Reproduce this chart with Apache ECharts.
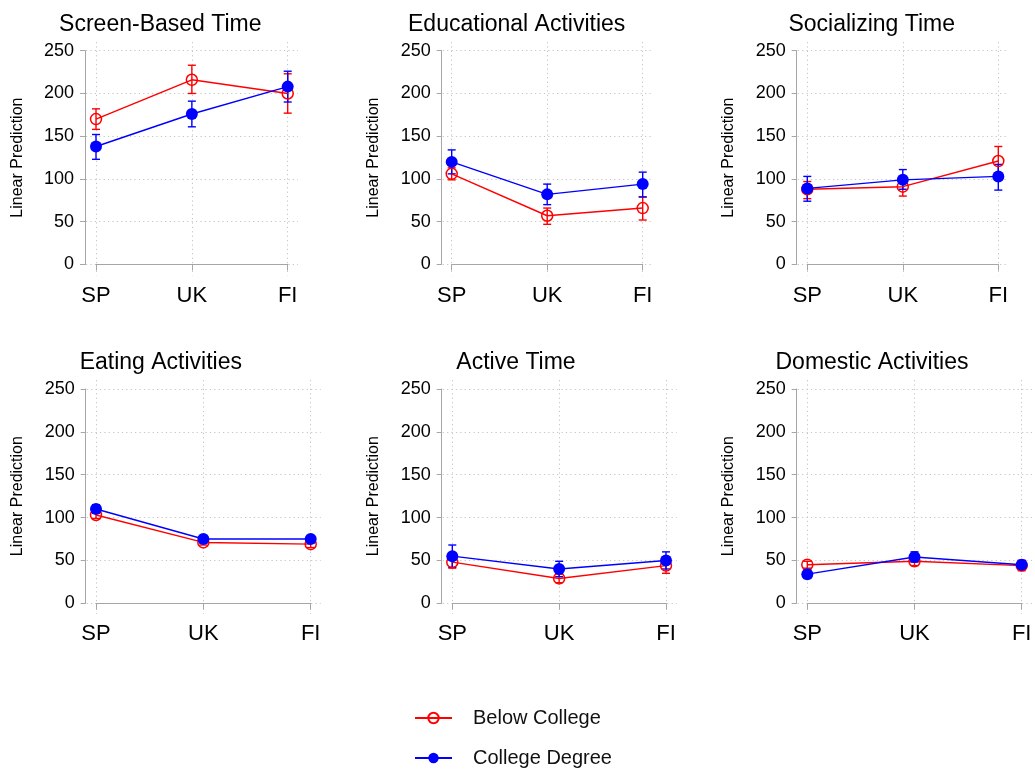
<!DOCTYPE html>
<html>
<head>
<meta charset="utf-8">
<script src="https://cdn.jsdelivr.net/npm/echarts@6/dist/echarts.min.js"></script>
<style>
html,body{margin:0;padding:0;background:#fff;}
#chart{width:1035px;height:769px;}
</style>
</head>
<body>
<div id="chart"></div>
<script>
// ---------- data ----------
const countries = ['SP', 'UK', 'FI'];
const yTicks = [0, 50, 100, 150, 200, 250];
const panelTitles = ['Screen-Based Time', 'Educational Activities', 'Socializing Time',
                     'Eating Activities', 'Active Time', 'Domestic Activities'];
const seriesNames = ['Below College', 'College Degree'];
const yAxisTitle = 'Linear Prediction';

// Below College: point estimate and 95% CI, per panel (SP, UK, FI)
const belowMean = [[170, 216, 200], [106, 57, 66], [88, 91, 121], [103, 71, 69], [48, 29, 44], [45, 49, 44]];
const belowLow  = [[158, 200, 177], [99, 47, 52], [77, 80, 103], [99, 68, 65], [41, 24, 35], [41, 44, 38]];
const belowHigh = [[182, 233, 223], [113, 66, 79], [97, 101, 138], [107, 74, 73], [55, 34, 53], [49, 54, 50]];
// College Degree
const collegeMean = [[138, 176, 208], [120, 82, 94], [89, 99, 103], [110, 75, 75], [55, 40, 50], [34, 54, 45]];
const collegeLow  = [[123, 161, 190], [106, 70, 79], [74, 88, 87], [105, 72, 72], [42, 31, 40], [29, 48, 40]];
const collegeHigh = [[152, 191, 226], [134, 94, 108], [103, 111, 117], [115, 78, 78], [68, 49, 60], [39, 60, 50]];

// ---------- layout (pixels) ----------
const rowLayout = [
  { top: 50.7, zero: 264.5, axisY: 275.5, plotTop: 42, titleY: 25 },
  { top: 389, zero: 603.3, axisY: 614, plotTop: 380, titleY: 363 }
];
const panelLayout = [
  { row: 0, axisX: 85, first: 96, last: 287.7, right: 298, titleX: 160.3, yTitleX: 17.5 },
  { row: 0, axisX: 441.7, first: 451.7, last: 642.7, right: 653, titleX: 516.7, yTitleX: 373.3 },
  { row: 0, axisX: 796.7, first: 807.3, last: 998.3, right: 1009, titleX: 871.7, yTitleX: 728.3 },
  { row: 1, axisX: 85.7, first: 96, last: 310.7, right: 320.7, titleX: 160.8, yTitleX: 17.3 },
  { row: 1, axisX: 441.7, first: 452.3, last: 666, right: 676.7, titleX: 516, yTitleX: 373.3 },
  { row: 1, axisX: 796.7, first: 807.3, last: 1021.7, right: 1032, titleX: 872, yTitleX: 728.3 }
];

const FONT = "'Liberation Sans', Arial, Helvetica, sans-serif";
const RED = '#ff0000';
const BLUE = '#0000ff';
const AXIS_GRAY = '#a6a6a6';
const GRID_GRAY = '#c4c4c4';

const grids = [], xAxes = [], yAxes = [], series = [], graphics = [];

function errBarRenderer(color) {
  return function (params, api) {
    const x = api.value(0);
    const lo = api.coord([x, api.value(1)]);
    const hi = api.coord([x, api.value(2)]);
    const cap = 4;
    const style = { stroke: color, lineWidth: 1.4, fill: null };
    return {
      type: 'group',
      children: [
        { type: 'line', shape: { x1: lo[0], y1: lo[1], x2: hi[0], y2: hi[1] }, style: style },
        { type: 'line', shape: { x1: lo[0] - cap, y1: lo[1], x2: lo[0] + cap, y2: lo[1] }, style: style },
        { type: 'line', shape: { x1: hi[0] - cap, y1: hi[1], x2: hi[0] + cap, y2: hi[1] }, style: style }
      ]
    };
  };
}

panelLayout.forEach(function (p, i) {
  const r = rowLayout[p.row];
  const dataW = p.last - p.first;
  const dataH = r.zero - r.top;

  // grid for horizontal gridlines (full plot width)
  const gH = grids.length;
  grids.push({ left: p.axisX + 1, top: r.top, width: p.right - p.axisX - 1, height: dataH, containLabel: false });
  xAxes.push({ gridIndex: gH, type: 'value', min: 0, max: 1, show: false });
  yAxes.push({
    gridIndex: gH, type: 'value', min: 0, max: 250, interval: 50,
    axisLine: { show: false }, axisTick: { show: false }, axisLabel: { show: false },
    splitLine: { show: true, lineStyle: { color: GRID_GRAY, type: [1.2, 3.2], width: 1 } }
  });

  // grid for vertical gridlines (full plot height)
  const gV = grids.length;
  grids.push({ left: p.first, top: r.plotTop, width: dataW, height: r.axisY - r.plotTop, containLabel: false });
  xAxes.push({
    gridIndex: gV, type: 'category', data: countries, boundaryGap: false,
    axisLine: { show: false }, axisTick: { show: false }, axisLabel: { show: false },
    splitLine: { show: true, lineStyle: { color: GRID_GRAY, type: [1.2, 3.2], width: 1 } }
  });
  yAxes.push({ gridIndex: gV, type: 'value', min: 0, max: 1, show: false });

  // data grid
  const gD = grids.length;
  grids.push({ left: p.first, top: r.top, width: dataW, height: dataH, containLabel: false });
  xAxes.push({
    gridIndex: gD, type: 'category', data: countries, boundaryGap: false,
    offset: r.axisY - r.zero,
    axisLine: { show: true, lineStyle: { color: AXIS_GRAY, width: 1 } },
    axisTick: { show: true, length: 6, alignWithLabel: true, lineStyle: { color: AXIS_GRAY } },
    axisLabel: { show: true, margin: 9, fontSize: 22, color: '#000', fontFamily: FONT },
    splitLine: { show: false }
  });
  yAxes.push({
    gridIndex: gD, type: 'value', min: yTicks[0], max: yTicks[yTicks.length - 1], interval: 50,
    offset: p.first - p.axisX,
    name: yAxisTitle, nameLocation: 'middle', nameRotate: 90,
    nameGap: p.axisX - p.yTitleX - 8,
    nameTextStyle: { fontSize: 16, color: '#000', fontFamily: FONT },
    axisLine: { show: true, lineStyle: { color: AXIS_GRAY, width: 1 } },
    axisTick: { show: true, length: 5, lineStyle: { color: AXIS_GRAY } },
    axisLabel: { show: true, margin: 11, fontSize: 18, color: '#000', fontFamily: FONT },
    splitLine: { show: false }
  });

  const ax = xAxes.length - 1;
  const ay = yAxes.length - 1;

  series.push({
    type: 'line', name: seriesNames[0], xAxisIndex: ax, yAxisIndex: ay, z: 4,
    data: belowMean[i], symbol: 'circle', symbolSize: 11, showAllSymbol: true,
    lineStyle: { color: RED, width: 1.4 },
    itemStyle: { color: 'rgba(255,255,255,0)', borderColor: RED, borderWidth: 1.5 },
    animation: false
  });
  series.push({
    type: 'line', name: seriesNames[1], xAxisIndex: ax, yAxisIndex: ay, z: 5,
    data: collegeMean[i], symbol: 'circle', symbolSize: 12, showAllSymbol: true,
    lineStyle: { color: BLUE, width: 1.4 },
    itemStyle: { color: BLUE, borderColor: BLUE, borderWidth: 0 },
    animation: false
  });
  series.push({
    type: 'custom', name: seriesNames[0] + ' CI', xAxisIndex: ax, yAxisIndex: ay,
    renderItem: errBarRenderer(RED), z: 3, silent: true,
    data: countries.map(function (c, k) { return [k, belowLow[i][k], belowHigh[i][k]]; })
  });
  series.push({
    type: 'custom', name: seriesNames[1] + ' CI', xAxisIndex: ax, yAxisIndex: ay,
    renderItem: errBarRenderer(BLUE), z: 3, silent: true,
    data: countries.map(function (c, k) { return [k, collegeLow[i][k], collegeHigh[i][k]]; })
  });

  graphics.push({
    type: 'text', x: p.titleX, y: r.titleY,
    style: { text: panelTitles[i], fill: '#000', font: '23px ' + FONT, textAlign: 'center', textVerticalAlign: 'middle' }
  });
});

const chart = echarts.init(document.getElementById('chart'), null, { renderer: 'canvas' });
chart.setOption({
  backgroundColor: '#fff',
  animation: false,
  grid: grids,
  xAxis: xAxes,
  yAxis: yAxes,
  series: series,
  graphic: graphics,
  legend: {
    data: [
      { name: seriesNames[0] },
      { name: seriesNames[1] }
    ],
    orient: 'vertical',
    left: 414, top: 708,
    itemWidth: 37, itemHeight: 13, itemGap: 20,
    padding: 0,
    textStyle: { fontSize: 20, color: '#111', fontFamily: FONT, padding: [0, 0, 0, 16], lineHeight: 20 }
  }
});
</script>
</body>
</html>
